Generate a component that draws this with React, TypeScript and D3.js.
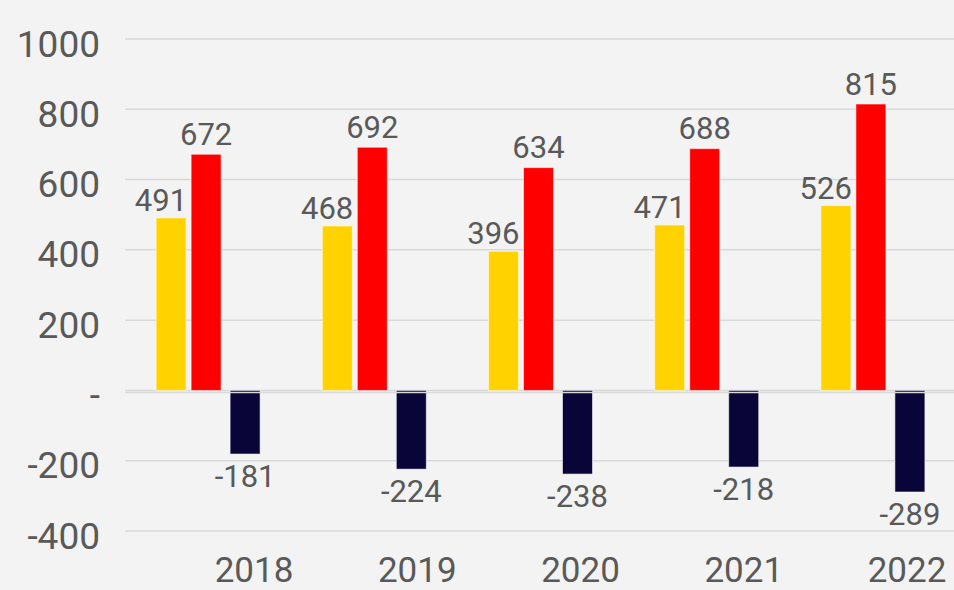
import React from 'react'
import * as d3 from 'd3'

const years = ['2018', '2019', '2020', '2021', '2022']
const seriesA = [491, 468, 396, 471, 526]
const seriesB = [672, 692, 634, 688, 815]
const seriesC = [-181, -224, -238, -218, -289]
const yTicks = [1000, 800, 600, 400, 200, 0, -200, -400]

const WIDTH = 954
const HEIGHT = 590
const plot = { left: 125, right: 956, top: 39, bottom: 531 }
const BAR_W = 30
const TEXT = '#595959'
const FONT = 'Roboto, "Noto Sans", sans-serif'

const colors = { a: '#FFD200', b: '#FF0000', c: '#0A0538' }

export default function App() {
  const y = d3.scaleLinear().domain([-400, 1000]).range([plot.bottom, plot.top])
  const x0 = d3.scaleBand().domain(years).range([plot.left, plot.right]).paddingInner(0)
  // offset of each bar inside its year group (red-to-navy gap is wider)
  const x1 = d3.scaleOrdinal<string, number>().domain(['a', 'b', 'c']).range([0, 35, 74])
  const groupW = 74 + BAR_W
  const groupStart = (yr: string) => x0(yr)! + (x0.bandwidth() - groupW) / 2
  const xYear = d3.scalePoint().domain(years).range([254, 907])

  const fmt = (v: number) => (v === 0 ? '-' : String(v))

  const series = [
    { key: 'a', values: seriesA },
    { key: 'b', values: seriesB },
    { key: 'c', values: seriesC },
  ]

  return (
    <svg
      width={WIDTH}
      height={HEIGHT}
      style={{ position: 'absolute', left: 0, top: 0, fontFamily: FONT }}
    >
      <rect width={WIDTH} height={HEIGHT} fill="#F2F3F2" />

      {/* gridlines + tick labels */}
      <g>
        {yTicks.map(t => (
          <g key={t}>
            <line
              x1={plot.left}
              x2={WIDTH}
              y1={y(t)}
              y2={y(t)}
              stroke="#D9D9D9"
              strokeWidth={1.5}
            />
            <text
              x={100}
              y={y(t) + 17.5}
              textAnchor="end"
              fontSize={37}
              fill={TEXT}
            >
              {fmt(t)}
            </text>
          </g>
        ))}
      </g>

      {/* bars */}
      <g>
        {series.map(s =>
          s.values.map((v, i) => {
            const yr = years[i]
            const bx = groupStart(yr) + x1(s.key)
            const top = Math.min(y(v), y(0))
            const h = Math.abs(y(v) - y(0))
            return (
              <rect
                key={s.key + yr}
                x={bx}
                y={top}
                width={BAR_W}
                height={h}
                fill={colors[s.key as 'a' | 'b' | 'c']}
                stroke="#ffffff"
                strokeOpacity={0.55}
                strokeWidth={1}
              />
            )
          })
        )}
      </g>

      {/* zero line drawn over the negative bars */}
      <line
        x1={plot.left}
        x2={WIDTH}
        y1={y(0) + 2}
        y2={y(0) + 2}
        stroke="#D9D9D9"
        strokeWidth={1.5}
      />

      {/* data labels */}
      <g fill={TEXT} fontSize={31}>
        {seriesA.map((v, i) => {
          const bx = groupStart(years[i]) + x1('a')
          return (
            <text key={'la' + i} x={bx + BAR_W + 1} y={y(v) - 7} textAnchor="end">
              {v}
            </text>
          )
        })}
        {seriesB.map((v, i) => {
          const bx = groupStart(years[i]) + x1('b')
          return (
            <text key={'lb' + i} x={bx + BAR_W / 2} y={y(v) - 9.5} textAnchor="middle">
              {v}
            </text>
          )
        })}
        {seriesC.map((v, i) => {
          const bx = groupStart(years[i]) + x1('c')
          return (
            <text key={'lc' + i} x={bx + BAR_W / 2} y={y(v) + 33} textAnchor="middle">
              {v}
            </text>
          )
        })}
      </g>

      {/* category labels */}
      <g fill={TEXT} fontSize={35}>
        {years.map(yr => (
          <text key={yr} x={xYear(yr)} y={582} textAnchor="middle">
            {yr}
          </text>
        ))}
      </g>
    </svg>
  )
}
